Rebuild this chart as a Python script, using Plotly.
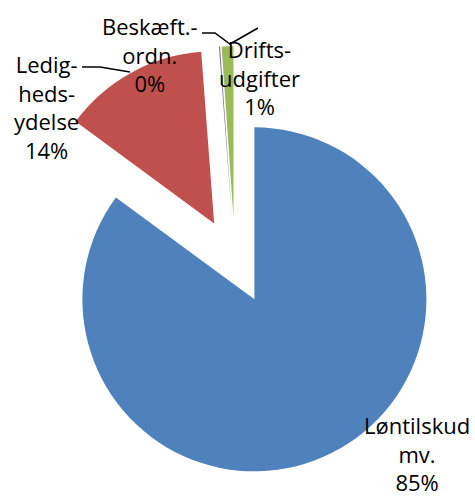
import plotly.graph_objects as go

# Data
labels = ["Løntilskud mv.", "Ledighedsydelse", "Beskæft.-ordn.", "Driftsudgifter"]
label_lines = ["Løntilskud<br>mv.", "Ledig-<br>heds-<br>ydelse", "Beskæft.-<br>ordn.", "Drifts-<br>udgifter"]
values = [85.1, 13.7, 0.1, 1.1]
colors = ["#4F81BD", "#C0504D", "#8064A2", "#9BBB59"]

W, H = 475, 496


def px(x, y):
    return x / W, 1 - y / H


fig = go.Figure()
fig.add_trace(go.Pie(
    labels=labels,
    values=values,
    sort=False,
    direction="clockwise",
    rotation=0,
    pull=[0.25, 0.25, 0.25, 0.25],
    marker=dict(colors=colors, line=dict(width=0)),
    textinfo="none",
    hoverinfo="label+percent",
    domain=dict(x=[20 / W, 450 / W], y=[1 - 476 / H, 1 - 46 / H]),
))

total = sum(values)
label_pos = [(417, 453), (46, 107), (150, 55), (259, 78)]
for name, v, (x, y) in zip(label_lines, values, label_pos):
    pct = round(100 * v / total)
    ax, ay = px(x, y)
    fig.add_annotation(
        x=ax, y=ay, xref="paper", yref="paper",
        text=f"{name}<br>{pct}%",
        showarrow=False, xanchor="center", yanchor="middle",
        font=dict(family="Open Sans", size=22, color="#000000"),
        align="center",
    )


def path(points):
    pts = [px(x, y) for x, y in points]
    return "M " + " L ".join(f"{a},{b}" for a, b in pts)


for pts in [[(202, 33), (215, 33), (230, 44), (258, 28)],
            [(82, 67), (100, 67), (130, 72)]]:
    fig.add_shape(type="path", xref="paper", yref="paper", path=path(pts),
                  line=dict(color="#000000", width=1.5))

fig.update_layout(
    width=W, height=H,
    margin=dict(l=0, r=0, t=0, b=0),
    showlegend=False,
    paper_bgcolor="white",
    plot_bgcolor="white",
)

fig.write_html("out.html", config={"displayModeBar": False},
               post_script="document.body.style.margin='0';")
